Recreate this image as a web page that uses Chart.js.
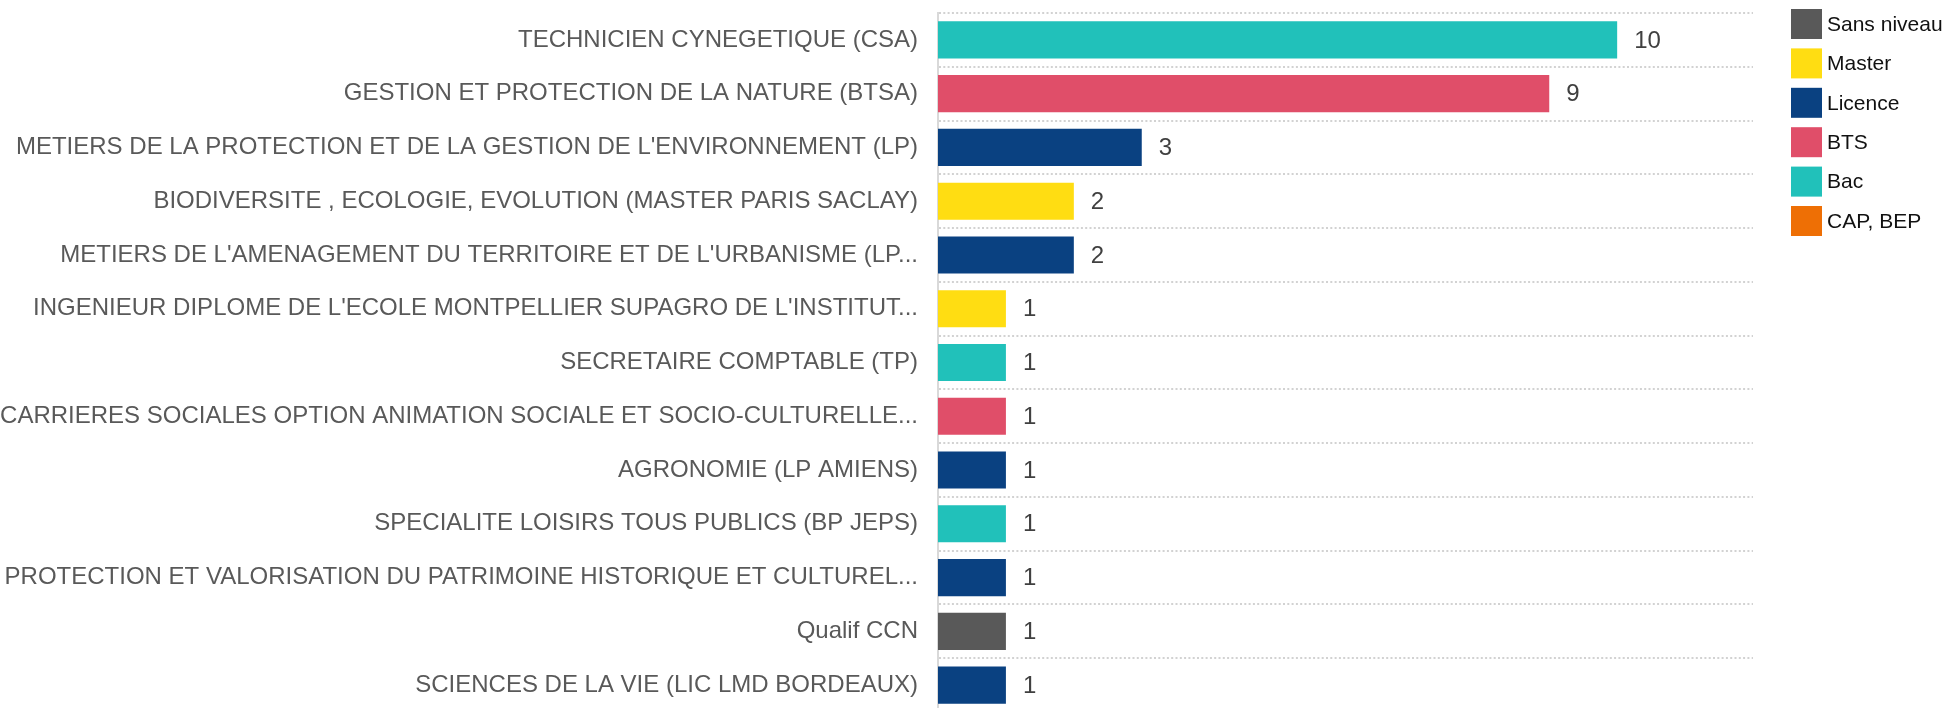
<!DOCTYPE html>
<html lang="fr">
<head>
<meta charset="utf-8">
<title>Formations par niveau</title>
<script src="https://cdn.jsdelivr.net/npm/chart.js@4.4.1/dist/chart.umd.min.js"></script>
<style>
  html, body { margin: 0; padding: 0; background: #ffffff; overflow: hidden; }
  #wrap { position: relative; width: 1947px; height: 712px; }
</style>
</head>
<body>
<div id="wrap"><canvas id="levelsChart"></canvas></div>
<script>
// Formations (one bar each), top to bottom
const categories = [
  'TECHNICIEN CYNEGETIQUE (CSA)',
  'GESTION ET PROTECTION DE LA NATURE (BTSA)',
  "METIERS DE LA PROTECTION ET DE LA GESTION DE L'ENVIRONNEMENT (LP)",
  'BIODIVERSITE , ECOLOGIE, EVOLUTION (MASTER PARIS SACLAY)',
  "METIERS DE L'AMENAGEMENT DU TERRITOIRE ET DE L'URBANISME (LP...",
  "INGENIEUR DIPLOME DE L'ECOLE MONTPELLIER SUPAGRO DE L'INSTITUT...",
  'SECRETAIRE COMPTABLE (TP)',
  'CARRIERES SOCIALES OPTION ANIMATION SOCIALE ET SOCIO-CULTURELLE...',
  'AGRONOMIE (LP AMIENS)',
  'SPECIALITE LOISIRS TOUS PUBLICS (BP JEPS)',
  'PROTECTION ET VALORISATION DU PATRIMOINE HISTORIQUE ET CULTUREL...',
  'Qualif CCN',
  'SCIENCES DE LA VIE (LIC LMD BORDEAUX)'
];

const counts = [10, 9, 3, 2, 2, 1, 1, 1, 1, 1, 1, 1, 1];

// Level of each formation
const levels = [
  'Bac', 'BTS', 'Licence', 'Master', 'Licence', 'Master', 'Bac',
  'BTS', 'Licence', 'Bac', 'Licence', 'Sans niveau', 'Licence'
];

// Legend order and colours
const levelNames = ['Sans niveau', 'Master', 'Licence', 'BTS', 'Bac', 'CAP, BEP'];
const levelColors = ['#595959', '#ffdd12', '#0a4181', '#e04e69', '#21c1ba', '#ee6f05'];

const xMax = 12;

// One dataset per level, bars not grouped so they sit on the category centre
const datasets = levelNames.map((name, i) => ({
  label: name,
  data: counts.map((v, k) => (levels[k] === name ? v : null)),
  backgroundColor: levelColors[i],
  borderWidth: 0,
  grouped: false,
  categoryPercentage: 1,
  barPercentage: 0.69
}));

/**
 * Writes the count to the right of every bar
 */
const valueLabels = {
  id: 'valueLabels',
  afterDatasetsDraw(chart) {
    const ctx = chart.ctx;
    ctx.save();
    ctx.font = '24px "Liberation Sans", Arial, sans-serif';
    ctx.fillStyle = '#404040';
    ctx.textAlign = 'left';
    ctx.textBaseline = 'middle';
    chart.data.datasets.forEach((ds, i) => {
      const meta = chart.getDatasetMeta(i);
      meta.data.forEach((bar, k) => {
        const v = ds.data[k];
        if (v === null || v === undefined) return;
        ctx.fillText(String(v), bar.x + 17, bar.y + 1);
      });
    });
    ctx.restore();
  }
};

/**
 * Square legend on the right, drawn from the datasets
 */
const sideLegend = {
  id: 'sideLegend',
  afterDraw(chart) {
    const ctx = chart.ctx;
    const left = chart.chartArea.right + 38;
    const top = 9;
    const step = 39.4;
    ctx.save();
    ctx.font = '21px "Liberation Sans", Arial, sans-serif';
    ctx.textAlign = 'left';
    ctx.textBaseline = 'middle';
    chart.data.datasets.forEach((ds, i) => {
      const y = top + i * step;
      ctx.fillStyle = ds.backgroundColor;
      ctx.fillRect(left, y, 31, 30);
      ctx.fillStyle = '#111111';
      ctx.fillText(ds.label, left + 36, y + 16);
    });
    ctx.restore();
  }
};

const ctx = document.getElementById('levelsChart').getContext('2d');

new Chart(ctx, {
  type: 'bar',
  data: {
    labels: categories,
    datasets: datasets
  },
  options: {
    indexAxis: 'y',
    responsive: true,
    maintainAspectRatio: false,
    animation: false,
    layout: {
      padding: { top: 13, right: 194, bottom: 0, left: 0 }
    },
    scales: {
      x: {
        display: false,
        min: 0,
        max: xMax
      },
      y: {
        offset: true,
        grid: {
          offset: true,
          drawTicks: false,
          color: '#d2d2d2',
          lineWidth: 2
        },
        border: {
          display: true,
          color: '#d9d9d9',
          width: 2,
          dash: [2, 2.3]
        },
        ticks: {
          autoSkip: false,
          padding: 20,
          color: '#595959',
          font: { family: '"Liberation Sans", Arial, sans-serif', size: 24 }
        },
        afterFit(axis) {
          // fixed label column, and no extra room above/below the categories
          axis.width = 938;
          axis.paddingTop = 0;
          axis.paddingBottom = 0;
        }
      }
    },
    plugins: {
      legend: { display: false },
      tooltip: { enabled: false }
    }
  },
  plugins: [valueLabels, sideLegend]
});
</script>
</body>
</html>
